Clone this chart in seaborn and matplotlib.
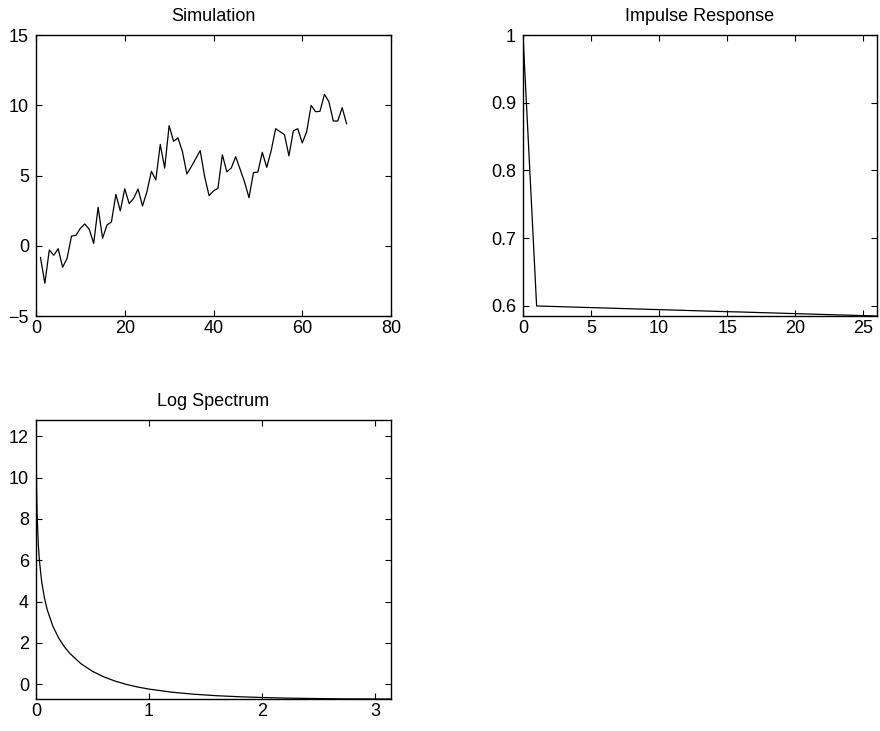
import numpy as np
import pandas as pd
import matplotlib
matplotlib.use("Agg")
import matplotlib.pyplot as plt
import seaborn as sns

# ---- data ----
sim_t = list(range(1, 71))
sim_y = [-0.82, -2.67, -0.30, -0.68, -0.21, -1.53, -0.90, 0.69, 0.74, 1.24,
         1.55, 1.17, 0.17, 2.74, 0.53, 1.48, 1.69, 3.66, 2.48, 4.05,
         3.00, 3.37, 4.04, 2.83, 3.85, 5.30, 4.68, 7.21, 5.53, 8.55,
         7.44, 7.67, 6.70, 5.11, 5.63, 6.20, 6.77, 4.92, 3.57, 3.90,
         4.09, 6.48, 5.26, 5.53, 6.34, 5.44, 4.54, 3.42, 5.20, 5.25,
         6.65, 5.58, 6.77, 8.33, 8.12, 7.90, 6.40, 8.19, 8.33, 7.32,
         8.12, 9.99, 9.54, 9.57, 10.78, 10.26, 8.88, 8.88, 9.83, 8.67]

imp_k = list(range(0, 27))
imp_y = [1.0, 0.6000, 0.5994, 0.5988, 0.5982, 0.5976, 0.5970, 0.5964, 0.5958,
         0.5952, 0.5946, 0.5940, 0.5934, 0.5928, 0.5922, 0.5916, 0.5911,
         0.5905, 0.5899, 0.5893, 0.5887, 0.5881, 0.5875, 0.5869, 0.5864,
         0.5858, 0.5852]

spec_w = [0.0, 0.005, 0.01, 0.02, 0.03, 0.05, 0.075, 0.1, 0.15, 0.2, 0.25,
          0.3, 0.4, 0.5, 0.6, 0.7, 0.8, 0.9, 1.0, 1.2, 1.4, 1.6, 1.8, 2.0,
          2.2, 2.4, 2.6, 2.8, 3.0, 3.1416]
spec_y = [12.79, 9.537, 8.180, 6.801, 5.992, 4.973, 4.166, 3.596, 2.800,
          2.245, 1.824, 1.489, 0.987, 0.627, 0.359, 0.154, -0.006, -0.132,
          -0.233, -0.381, -0.482, -0.553, -0.603, -0.639, -0.666, -0.685,
          -0.698, -0.707, -0.711, -0.712]

titles = ["Simulation", "Impulse Response", "Log Spectrum"]

# ---- style ----
sns.set_style("ticks")
plt.rcParams["font.family"] = ["Liberation Sans", "DejaVu Sans"]
plt.rcParams["text.color"] = "black"
plt.rcParams["axes.titlecolor"] = "black"
plt.rcParams["xtick.direction"] = "in"
plt.rcParams["ytick.direction"] = "in"

W, H = 880, 731
fig = plt.figure(figsize=(W / 100, H / 100), dpi=100)

def pos(l, t, r, b):
    return [l / W, 1 - b / H, (r - l) / W, (b - t) / H]

ax1 = fig.add_axes(pos(36, 35, 391, 316))
ax2 = fig.add_axes(pos(523, 35, 877, 316))
ax3 = fig.add_axes(pos(36, 420, 391, 699))

df1 = pd.DataFrame({"t": sim_t, "y": sim_y})
df2 = pd.DataFrame({"k": imp_k, "y": imp_y})
df3 = pd.DataFrame({"w": spec_w, "y": spec_y})

lw = 0.9
sns.lineplot(data=df1, x="t", y="y", ax=ax1, color="black", linewidth=lw)
sns.lineplot(data=df2, x="k", y="y", ax=ax2, color="black", linewidth=lw)
sns.lineplot(data=df3, x="w", y="y", ax=ax3, color="black", linewidth=lw)

ax1.set_xlim(0, 80)
ax1.set_ylim(-5, 15)
ax1.set_xticks([0, 20, 40, 60, 80])
ax1.set_yticks([-5, 0, 5, 10, 15])
ax1.set_yticklabels(["\u22125", "0", "5", "10", "15"])

ax2.set_xlim(0, 26)
ax2.set_ylim(min(imp_y), max(imp_y))
ax2.set_xticks([0, 5, 10, 15, 20, 25])
ax2.set_yticks([0.6, 0.7, 0.8, 0.9, 1.0])
ax2.set_yticklabels(["0.6", "0.7", "0.8", "0.9", "1"])

ax3.set_xlim(0, max(spec_w))
ax3.set_ylim(min(spec_y), max(spec_y))
ax3.set_xticks([0, 1, 2, 3])
ax3.set_yticks([0, 2, 4, 6, 8, 10, 12])

for ax, title in zip([ax1, ax2, ax3], titles):
    ax.set_title(title, fontsize=13, pad=10, color="black")
    ax.set_xlabel("")
    ax.set_ylabel("")
    for s in ax.spines.values():
        s.set_visible(True)
        s.set_linewidth(1.0)
        s.set_color("black")
    ax.tick_params(axis="both", which="both", direction="in", length=4,
                   width=0.8, labelsize=13, top=True, right=True,
                   colors="black")
    ax.tick_params(axis="x", pad=3)
    ax.tick_params(axis="y", pad=5)

fig.savefig("out.png", dpi=100)
